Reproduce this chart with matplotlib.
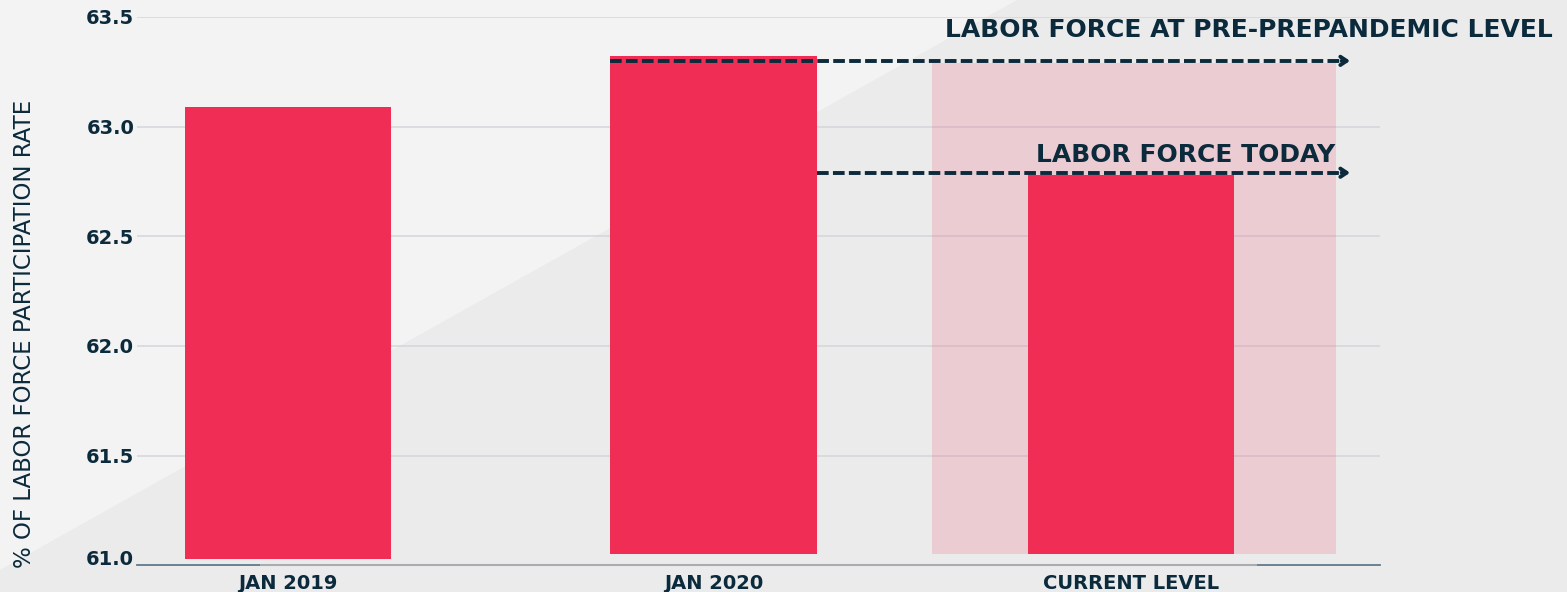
import matplotlib
matplotlib.use('Agg')
import matplotlib.pyplot as plt
import matplotlib.transforms as mtransforms
from matplotlib.patches import Polygon

# values
categories = ['JAN 2019', 'JAN 2020', 'CURRENT LEVEL']
participation = [63.09, 63.32, 62.78]
bar_base = [61.03, 61.05, 61.05]
y_ticks = [61.0, 61.5, 62.0, 62.5, 63.0, 63.5]
label_pre = 'LABOR FORCE AT PRE-PREPANDEMIC LEVEL'
label_today = 'LABOR FORCE TODAY'
y_label = '% OF LABOR FORCE PARTICIPATION RATE'

red = '#f02d55'
navy = '#0b2a3c'

fig = plt.figure(figsize=(15.67, 5.92), dpi=100)
fig.patch.set_facecolor('#ebebeb')

# lighter diagonal band in the upper left of the background
W, H = 1567, 592
tri = Polygon([(0, 1), (1017 / W, 1), (0, 1 - 570 / H)], closed=True,
              transform=fig.transFigure, facecolor='#f3f3f3', edgecolor='none', zorder=-1)
fig.patches.append(tri)

ax = fig.add_axes([137 / W, 1 - 565.3 / H, (1380 - 137) / W, (565.3 - 17) / H])
ax.set_zorder(2)
ax.patch.set_alpha(0)

x = [0, 1.01, 2]
heights = [v - b for v, b in zip(participation, bar_base)]

# highlight box behind the current level
ax.bar(2.007, participation[1] - 0.03 - bar_base[2], bottom=bar_base[2], width=0.96,
       color=red, alpha=0.16, zorder=1, linewidth=0)
ax.bar(x, heights, bottom=bar_base, width=0.49, color=red, zorder=2, linewidth=0)

ax.set_ylim(61.0, 63.5)
ax.set_xlim(-0.358, 2.591)
ax.set_yticks(y_ticks)
ax.set_yticklabels([f'{t:.1f}' for t in y_ticks])
ax.set_xticks(x)
ax.set_xticklabels(categories)
ax.tick_params(axis='both', length=0, colors=navy, labelsize=14)
ax.tick_params(axis='y', pad=2)
ax.tick_params(axis='x', pad=6)
for lab in ax.get_xticklabels() + ax.get_yticklabels():
    lab.set_fontweight('bold')

# bottom tick label sits a little above the base line
lowest = ax.get_yticklabels()[0]
lowest.set_transform(lowest.get_transform() +
                     mtransforms.ScaledTranslation(0, 8 / 100, fig.dpi_scale_trans))

for t in y_ticks[1:]:
    ax.axhline(t, color='#d3d6d9', lw=1.1, zorder=0.5)
for s in ax.spines.values():
    s.set_visible(False)

# base line: blue-grey ends, lighter middle
ax.plot([0, 1], [0, 0], transform=ax.transAxes, color='#5f7a8a', lw=1.3, clip_on=False, zorder=3)
ax.plot([0.1, 0.9], [0, 0], transform=ax.transAxes, color='#a9adb0', lw=1.5, clip_on=False, zorder=3.1)

# dashed arrows
arrow_end = 2.52
lines = [(1.01 - 0.245, participation[1] - 0.02), (1.01 + 0.245, participation[2] + 0.01)]
for x0, yv in lines:
    ax.plot([x0, arrow_end - 0.01], [yv, yv], color=navy, lw=2.8, dashes=(3.0, 1.1),
            zorder=4, solid_capstyle='butt')
    ax.annotate('', xy=(arrow_end, yv), xytext=(arrow_end - 0.02, yv),
                arrowprops=dict(arrowstyle='->,head_length=0.45,head_width=0.3',
                                color=navy, lw=2.8, shrinkA=0, shrinkB=0),
                zorder=4, annotation_clip=False)

ax.text(3.0, 63.44, label_pre, ha='right', va='center', fontsize=18,
        fontweight='bold', color=navy, clip_on=False)
ax.text(2.486, 62.87, label_today, ha='right', va='center', fontsize=18,
        fontweight='bold', color=navy)

fig.text(25 / W, 1 - 334 / H, y_label, rotation=90, ha='center', va='center',
         fontsize=16.5, color=navy)

fig.savefig('out.png', dpi=100, facecolor=fig.get_facecolor())
